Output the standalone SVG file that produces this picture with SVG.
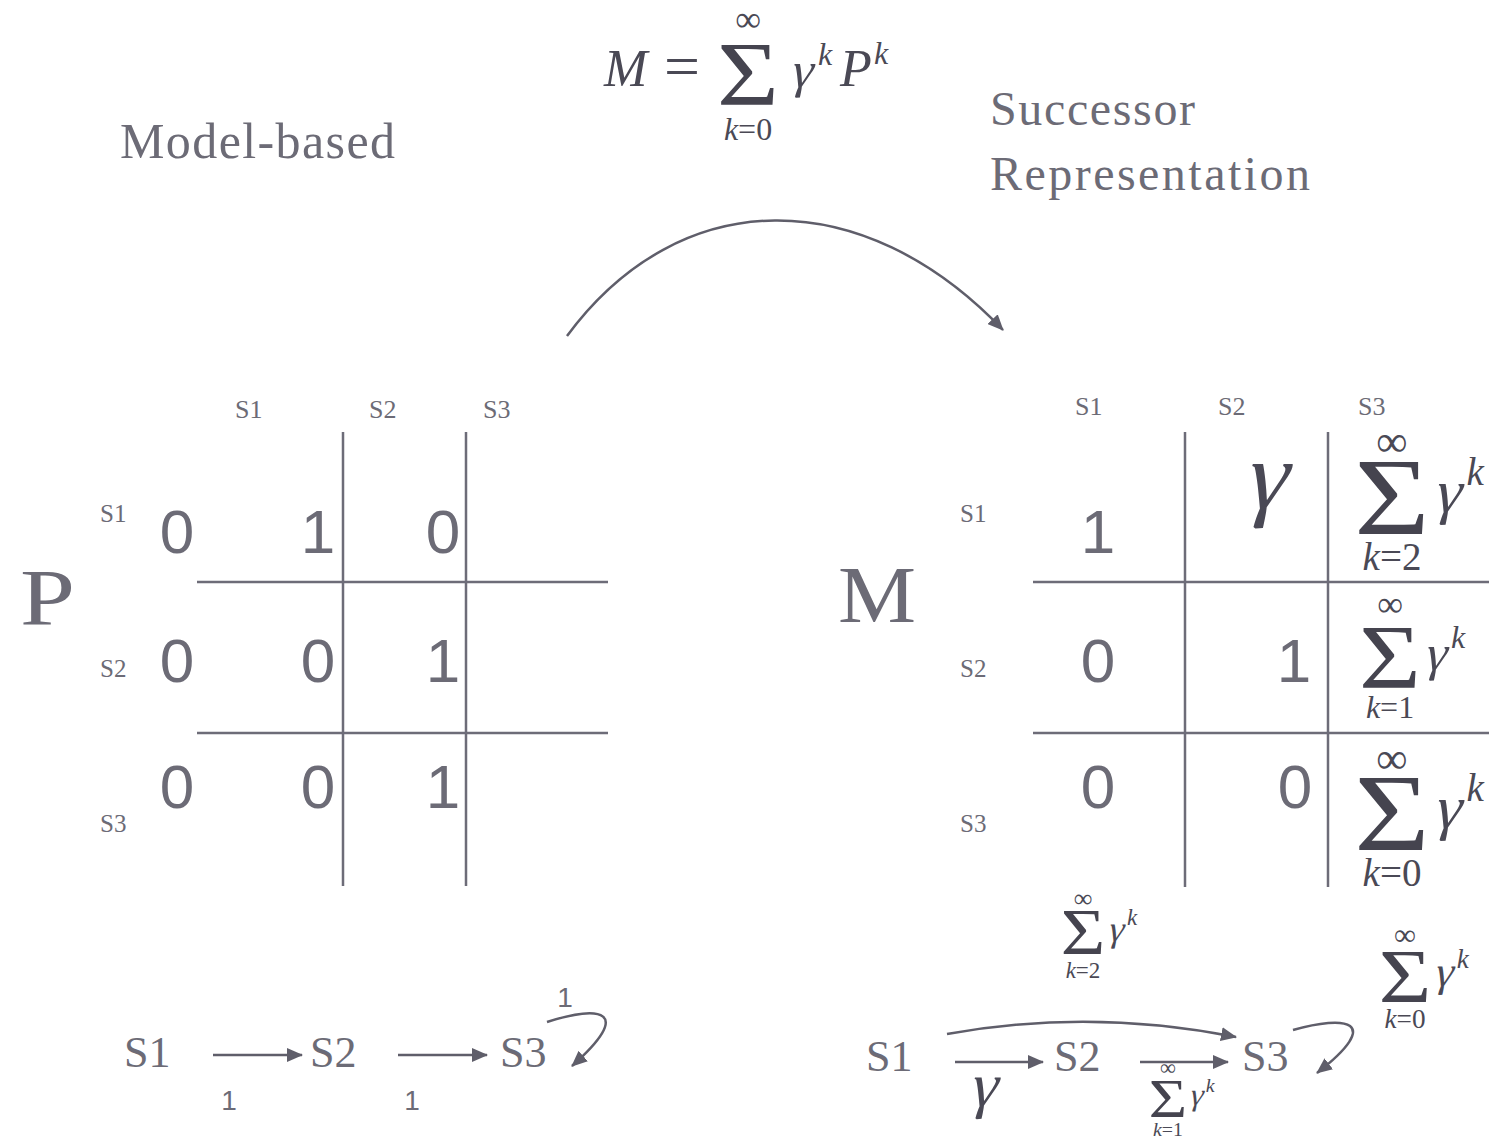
<svg xmlns="http://www.w3.org/2000/svg" width="1489" height="1141" viewBox="0 0 1489 1141">
<style>
.t{font-family:"Liberation Serif",serif;fill:#6c6b76}
.n{font-family:"Liberation Sans",Arial,sans-serif;fill:#6c6b76}
.m{font-family:"Liberation Serif",serif;fill:#4a4955;font-style:italic}
.g{font-family:"Liberation Serif",serif;fill:#4a4955}
.r{font-family:"Liberation Serif",serif;fill:#4a4955}
.inf{font-family:"Liberation Serif",serif;fill:#4a4955;font-size:36px}
.sig{font-family:"Liberation Serif",serif;fill:#45444f}
.grid{stroke:#6d6c78;stroke-width:2.5;fill:none}
.c{stroke:#5f5e6a;stroke-width:2.5;fill:none}
</style>
<defs>
<marker id="ah" markerWidth="16" markerHeight="14" refX="15" refY="7" orient="auto" markerUnits="userSpaceOnUse">
<path d="M0,0 L16,7 L0,14 Z" fill="#5f5e6a"/>
</marker>
<g id="sigma">
<text class="sig" x="0" y="30" font-size="90" text-anchor="middle" transform="scale(1.18 1)">Σ</text>
</g>
<g id="sumbody">
<use href="#sigma"/>
<g transform="translate(33,12) skewX(-14)"><text class="g" x="0" y="0" font-size="50">γ</text></g>
<text class="m" x="61" y="-10" font-size="32">k</text>
</g>
</defs>

<g id="title-model"><text class="t" x="120" y="158" font-size="50" textLength="275">Model-based</text></g>
<g id="title-sr">
<text class="t" x="990" y="125" font-size="48" textLength="205">Successor</text>
<text class="t" x="990" y="190" font-size="48" textLength="320">Representation</text>
</g>

<g id="formula">
<text class="m" x="604" y="86" font-size="52">M</text>
<text class="r" x="664" y="86" font-size="60" textLength="36" lengthAdjust="spacingAndGlyphs">=</text>
<g transform="translate(748,75)">
<use href="#sigma"/>
<g transform="translate(41,12) skewX(-14)"><text class="g" x="0" y="0" font-size="50">γ</text></g>
<text class="m" x="70" y="-10" font-size="32">k</text>
<text class="inf" x="0" y="-44" text-anchor="middle">∞</text>
<text class="m" x="0" y="65" font-size="32" text-anchor="middle">k<tspan font-style="normal">=0</tspan></text>
</g>
<text class="m" x="840" y="86" font-size="52">P</text>
<text class="m" x="874" y="64" font-size="32">k</text>
</g>

<g id="matrix-P">
<text class="t" x="20" y="625" font-size="80" textLength="55" lengthAdjust="spacingAndGlyphs">P</text>
<g class="grid">
<line x1="343" y1="432" x2="343" y2="886"/>
<line x1="466" y1="432" x2="466" y2="886"/>
<line x1="197" y1="582" x2="608" y2="582"/>
<line x1="197" y1="733" x2="608" y2="733"/>
</g>
<text class="t" font-size="26" x="235" y="418">S1</text>
<text class="t" font-size="26" x="369" y="418">S2</text>
<text class="t" font-size="26" x="483" y="418">S3</text>
<text class="t" font-size="25" x="100" y="522">S1</text>
<text class="t" font-size="25" x="100" y="677">S2</text>
<text class="t" font-size="25" x="100" y="832">S3</text>
<g class="n" font-size="62" text-anchor="middle">
<text x="177" y="553">0</text><text x="318" y="553">1</text><text x="443" y="553">0</text>
<text x="177" y="682">0</text><text x="318" y="682">0</text><text x="443" y="682">1</text>
<text x="177" y="808">0</text><text x="318" y="808">0</text><text x="443" y="808">1</text>
</g>
</g>

<g id="matrix-M">
<text class="t" x="838" y="622" font-size="80" textLength="78" lengthAdjust="spacingAndGlyphs">M</text>
<g class="grid">
<line x1="1185" y1="432" x2="1185" y2="887"/>
<line x1="1328" y1="432" x2="1328" y2="887"/>
<line x1="1033" y1="582" x2="1489" y2="582"/>
<line x1="1033" y1="733" x2="1489" y2="733"/>
</g>
<text class="t" font-size="26" x="1075" y="415">S1</text>
<text class="t" font-size="26" x="1218" y="415">S2</text>
<text class="t" font-size="26" x="1358" y="415">S3</text>
<text class="t" font-size="25" x="960" y="522">S1</text>
<text class="t" font-size="25" x="960" y="677">S2</text>
<text class="t" font-size="25" x="960" y="832">S3</text>
<g class="n" font-size="62" text-anchor="middle">
<text x="1098" y="553">1</text>
<text x="1098" y="682">0</text><text x="1294" y="682">1</text>
<text x="1098" y="808">0</text><text x="1295" y="808">0</text>
</g>
<g transform="translate(1242,508) skewX(-14)"><text class="g" x="0" y="0" font-size="96">γ</text></g>
<g transform="translate(1392,497) scale(1.22)">
<use href="#sumbody"/>
<text class="inf" x="0" y="-34" text-anchor="middle">∞</text>
<text class="m" x="0" y="60" font-size="32" text-anchor="middle">k<tspan font-style="normal">=2</tspan></text>
</g>
<g transform="translate(1390,658)">
<use href="#sumbody"/>
<text class="inf" x="0" y="-42" text-anchor="middle">∞</text>
<text class="m" x="0" y="60" font-size="32" text-anchor="middle">k<tspan font-style="normal">=1</tspan></text>
</g>
<g transform="translate(1392,813) scale(1.22)">
<use href="#sumbody"/>
<text class="inf" x="0" y="-33" text-anchor="middle">∞</text>
<text class="m" x="0" y="60" font-size="32" text-anchor="middle">k<tspan font-style="normal">=0</tspan></text>
</g>
</g>

<g id="chain-left">
<text class="t" font-size="44" x="124" y="1067">S1</text>
<text class="t" font-size="44" x="310" y="1067">S2</text>
<text class="t" font-size="44" x="500" y="1067">S3</text>
<text class="n" font-size="28" x="229" y="1110" text-anchor="middle">1</text>
<text class="n" font-size="28" x="412" y="1110" text-anchor="middle">1</text>
<text class="n" font-size="28" x="565" y="1007" text-anchor="middle">1</text>
</g>

<g id="chain-right">
<text class="t" font-size="44" x="866" y="1071">S1</text>
<text class="t" font-size="44" x="1054" y="1071">S2</text>
<text class="t" font-size="44" x="1242" y="1071">S3</text>
<g transform="translate(968,1106) skewX(-14)"><text class="g" x="0" y="0" font-size="62">γ</text></g>
<g transform="translate(1083,932) scale(0.72)">
<use href="#sumbody"/>
<text class="inf" x="0" y="-35" text-anchor="middle">∞</text>
<text class="m" x="0" y="64" font-size="32" text-anchor="middle">k<tspan font-style="normal">=2</tspan></text>
</g>
<g transform="translate(1405,976) scale(0.85)">
<use href="#sumbody"/>
<text class="inf" x="0" y="-37" text-anchor="middle">∞</text>
<text class="m" x="0" y="61" font-size="32" text-anchor="middle">k<tspan font-style="normal">=0</tspan></text>
</g>
<g transform="translate(1168,1098) scale(0.62)">
<use href="#sumbody"/>
<text class="inf" x="0" y="-37" text-anchor="middle">∞</text>
<text class="m" x="0" y="62" font-size="32" text-anchor="middle">k<tspan font-style="normal">=1</tspan></text>
</g>
</g>

<g id="connectors">
<path class="c" d="M567,336 C680,183 863,183 1003,330" marker-end="url(#ah)"/>
<line class="c" x1="213" y1="1055" x2="302" y2="1055" marker-end="url(#ah)"/>
<line class="c" x1="398" y1="1055" x2="487" y2="1055" marker-end="url(#ah)"/>
<path class="c" d="M547,1022 C600,1005 635,1010 572,1066" marker-end="url(#ah)"/>
<line class="c" x1="955" y1="1062" x2="1043" y2="1062" marker-end="url(#ah)"/>
<line class="c" x1="1140" y1="1062" x2="1228" y2="1062" marker-end="url(#ah)"/>
<path class="c" d="M947,1034 Q1090,1008 1236,1037" marker-end="url(#ah)"/>
<path class="c" d="M1293,1030 C1345,1015 1385,1020 1317,1073" marker-end="url(#ah)"/>
</g>
</svg>
